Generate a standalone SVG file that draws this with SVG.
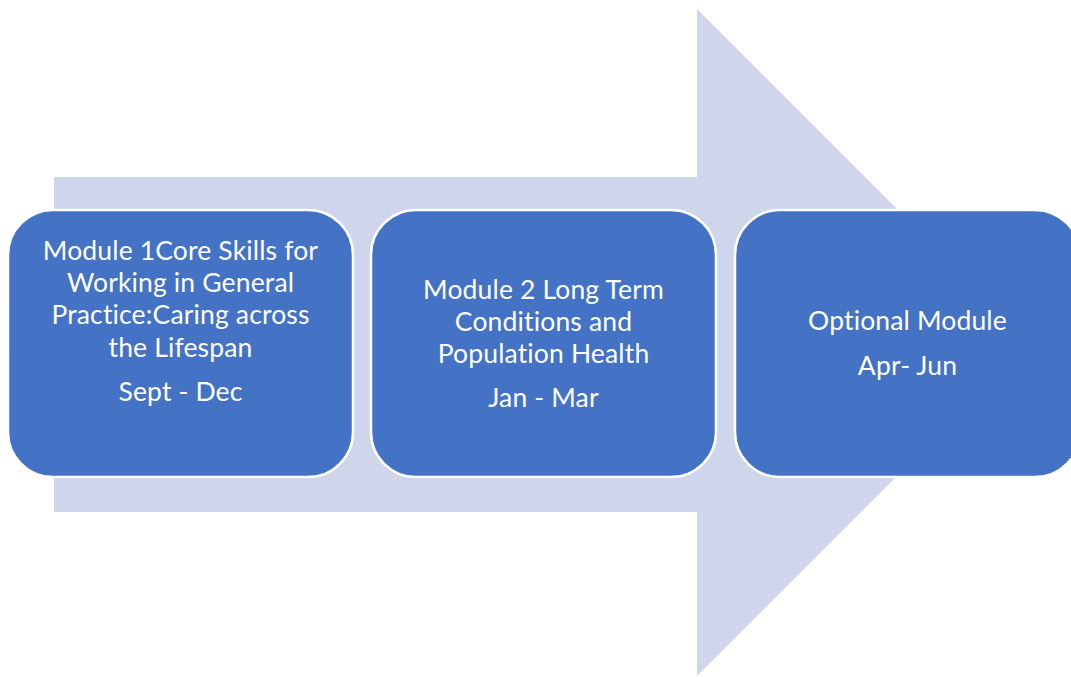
<svg xmlns="http://www.w3.org/2000/svg" width="1071" height="677" viewBox="0 0 1071 677">
<style>
.box{fill:#4472C4;stroke:#FFFFFF;stroke-width:2.5}
.t{font-family:Lato,"Liberation Sans",sans-serif;font-size:26.5px;fill:#FFFFFF;text-anchor:middle;font-variant-ligatures:none;letter-spacing:0.15px}
</style>
<rect width="1071" height="677" fill="#FFFFFF"/>
<g id="arrow">
<polygon points="54,177 697,177 697,9 1030.5,342.5 697,676 697,512 54,512" fill="#CFD5EA"/>
</g>
<g id="connectors"></g>
<g id="node1">
<rect class="box" x="8" y="210" width="345" height="267" rx="45" ry="45"/>
<text class="t" x="180.5" y="260">Module 1Core Skills for</text>
<text class="t" x="180.5" y="292">Working in General</text>
<text class="t" x="180.5" y="324">Practice:Caring across</text>
<text class="t" x="180.5" y="357">the Lifespan</text>
<text class="t" x="180.5" y="401">Sept - Dec</text>
</g>
<g id="node2">
<rect class="box" x="371" y="210" width="345" height="267" rx="45" ry="45"/>
<text class="t" x="543.5" y="299">Module 2 Long Term</text>
<text class="t" x="543.5" y="331">Conditions and</text>
<text class="t" x="543.5" y="363">Population Health</text>
<text class="t" x="543.5" y="407">Jan - Mar</text>
</g>
<g id="node3">
<rect class="box" x="735" y="210" width="345" height="267" rx="45" ry="45"/>
<text class="t" x="907.5" y="330">Optional Module</text>
<text class="t" x="907.5" y="375">Apr- Jun</text>
</g>
</svg>
